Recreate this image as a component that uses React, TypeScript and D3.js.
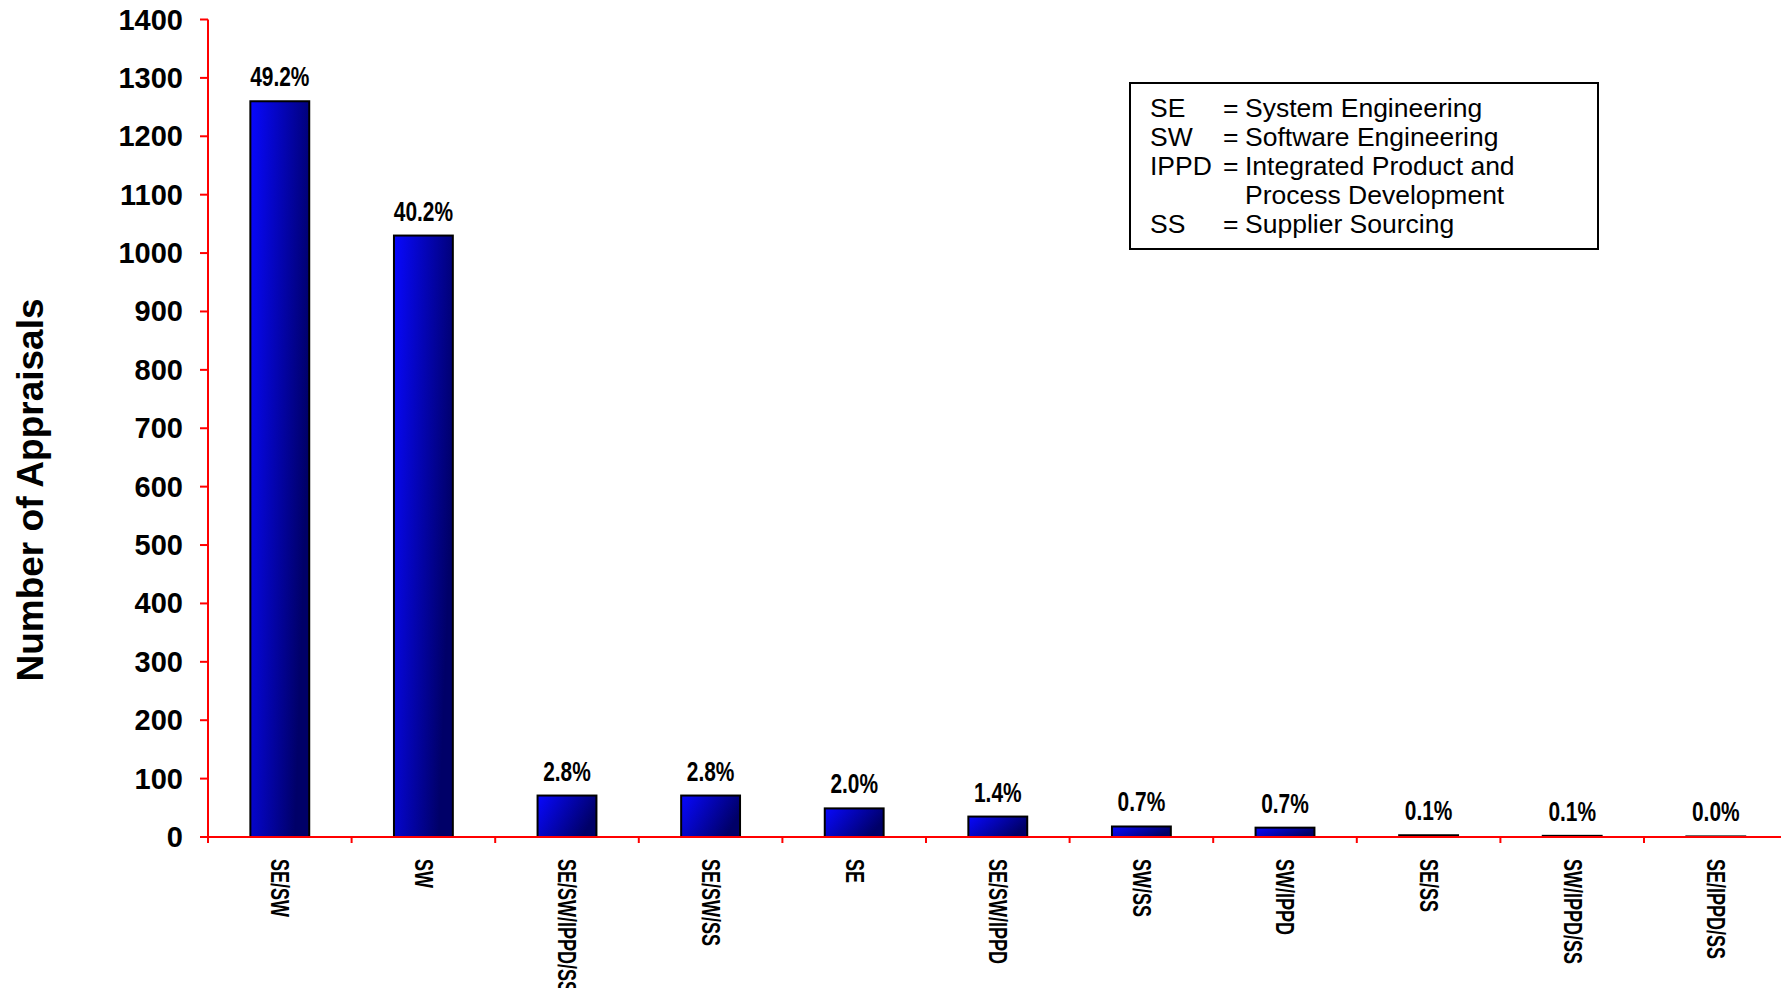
import React, { useMemo } from 'react'
import * as d3 from 'd3'

const categories = ['SE/SW', 'SW', 'SE/SW/IPPD/SS', 'SE/SW/SS', 'SE', 'SE/SW/IPPD', 'SW/SS', 'SW/IPPD', 'SE/SS', 'SW/IPPD/SS', 'SE/IPPD/SS']
const appraisals = [1260, 1030, 71, 71, 49, 35, 18, 16, 3, 2, 1]
const percentLabels = ['49.2%', '40.2%', '2.8%', '2.8%', '2.0%', '1.4%', '0.7%', '0.7%', '0.1%', '0.1%', '0.0%']
const yTicks = d3.range(0, 1401, 100)
const legendAbbr = ['SE', 'SW', 'IPPD', '', 'SS']
const legendText = ['System Engineering', 'Software Engineering', 'Integrated Product and', 'Process Development', 'Supplier Sourcing']

const W = 1781
const H = 988
const left = 208
const top = 19.5
const bottom = 837
const font = 'Liberation Sans, Arial, Helvetica, sans-serif'

const App = () => {
    const x = useMemo(() => (
        d3.scaleBand<string>()
            .domain(categories)
            .range([left, left + categories.length * 143.6])
            .paddingInner(0.59)
            .paddingOuter(0.295)
    ), [])

    const y = useMemo(() => (
        d3.scaleLinear()
            .domain([0, 1400])
            .range([bottom, top])
    ), [])

    return (
        <svg width={W} height={H} viewBox={`0 0 ${W} ${H}`}
            style={{ position: 'absolute', left: 0, top: 0, background: 'white' }}>
            <defs>
                <linearGradient id="barFill" x1="0" y1="0" x2="1" y2="0.4">
                    <stop offset="0" stopColor="#0808ff" />
                    <stop offset="1" stopColor="#000068" />
                </linearGradient>
            </defs>

            {/* bars */}
            {categories.map((c, i) => {
                const yt = y(appraisals[i])
                return (
                    <g key={c}>
                        <rect x={x(c)} y={yt} width={x.bandwidth()} height={bottom - yt}
                            fill="url(#barFill)" stroke="#000" strokeWidth={2} />
                        <text transform={`translate(${x(c)! + x.bandwidth() / 2} ${yt - 15}) scale(0.76 1)`}
                            textAnchor="middle" fontFamily={font} fontWeight="bold" fontSize={27.5}>
                            {percentLabels[i]}
                        </text>
                        <text transform={`translate(${x(c)! + x.bandwidth() / 2} 859) rotate(90) scale(0.72 1)`}
                            textAnchor="start" dominantBaseline="central"
                            fontFamily={font} fontWeight="bold" fontSize={25}>
                            {c}
                        </text>
                    </g>
                )
            })}

            {/* y axis */}
            <line x1={left} x2={left} y1={y(1400)} y2={bottom + 6} stroke="#ff0000" strokeWidth={2} />
            {yTicks.map(t => (
                <g key={t}>
                    <line x1={left - 8} x2={left} y1={y(t)} y2={y(t)} stroke="#ff0000" strokeWidth={2} />
                    <text x={183} y={y(t) + 10} textAnchor="end" fontFamily={font}
                        fontWeight="bold" fontSize={29}>{t}</text>
                </g>
            ))}

            {/* x axis */}
            <line x1={left} x2={W} y1={bottom} y2={bottom} stroke="#ff0000" strokeWidth={2} />
            {d3.range(categories.length + 1).map(i => (
                <line key={i} x1={left + i * x.step()} x2={left + i * x.step()} y1={bottom} y2={bottom + 6}
                    stroke="#ff0000" strokeWidth={2} />
            ))}

            <text transform="translate(43 490) rotate(-90)" textAnchor="middle" fontFamily={font}
                fontWeight="bold" fontSize={37}>Number of Appraisals</text>

            {/* legend */}
            <rect x={1130} y={83} width={468} height={166} fill="white" stroke="#000" strokeWidth={2} />
            {legendText.map((t, i) => (
                <g key={t} fontFamily={font} fontSize={26.5}>
                    <text x={1150} y={117 + i * 29}>{legendAbbr[i]}</text>
                    {legendAbbr[i] && <text x={1223} y={117 + i * 29}>=</text>}
                    <text x={1245} y={117 + i * 29}>{t}</text>
                </g>
            ))}
        </svg>
    )
}

export default App
